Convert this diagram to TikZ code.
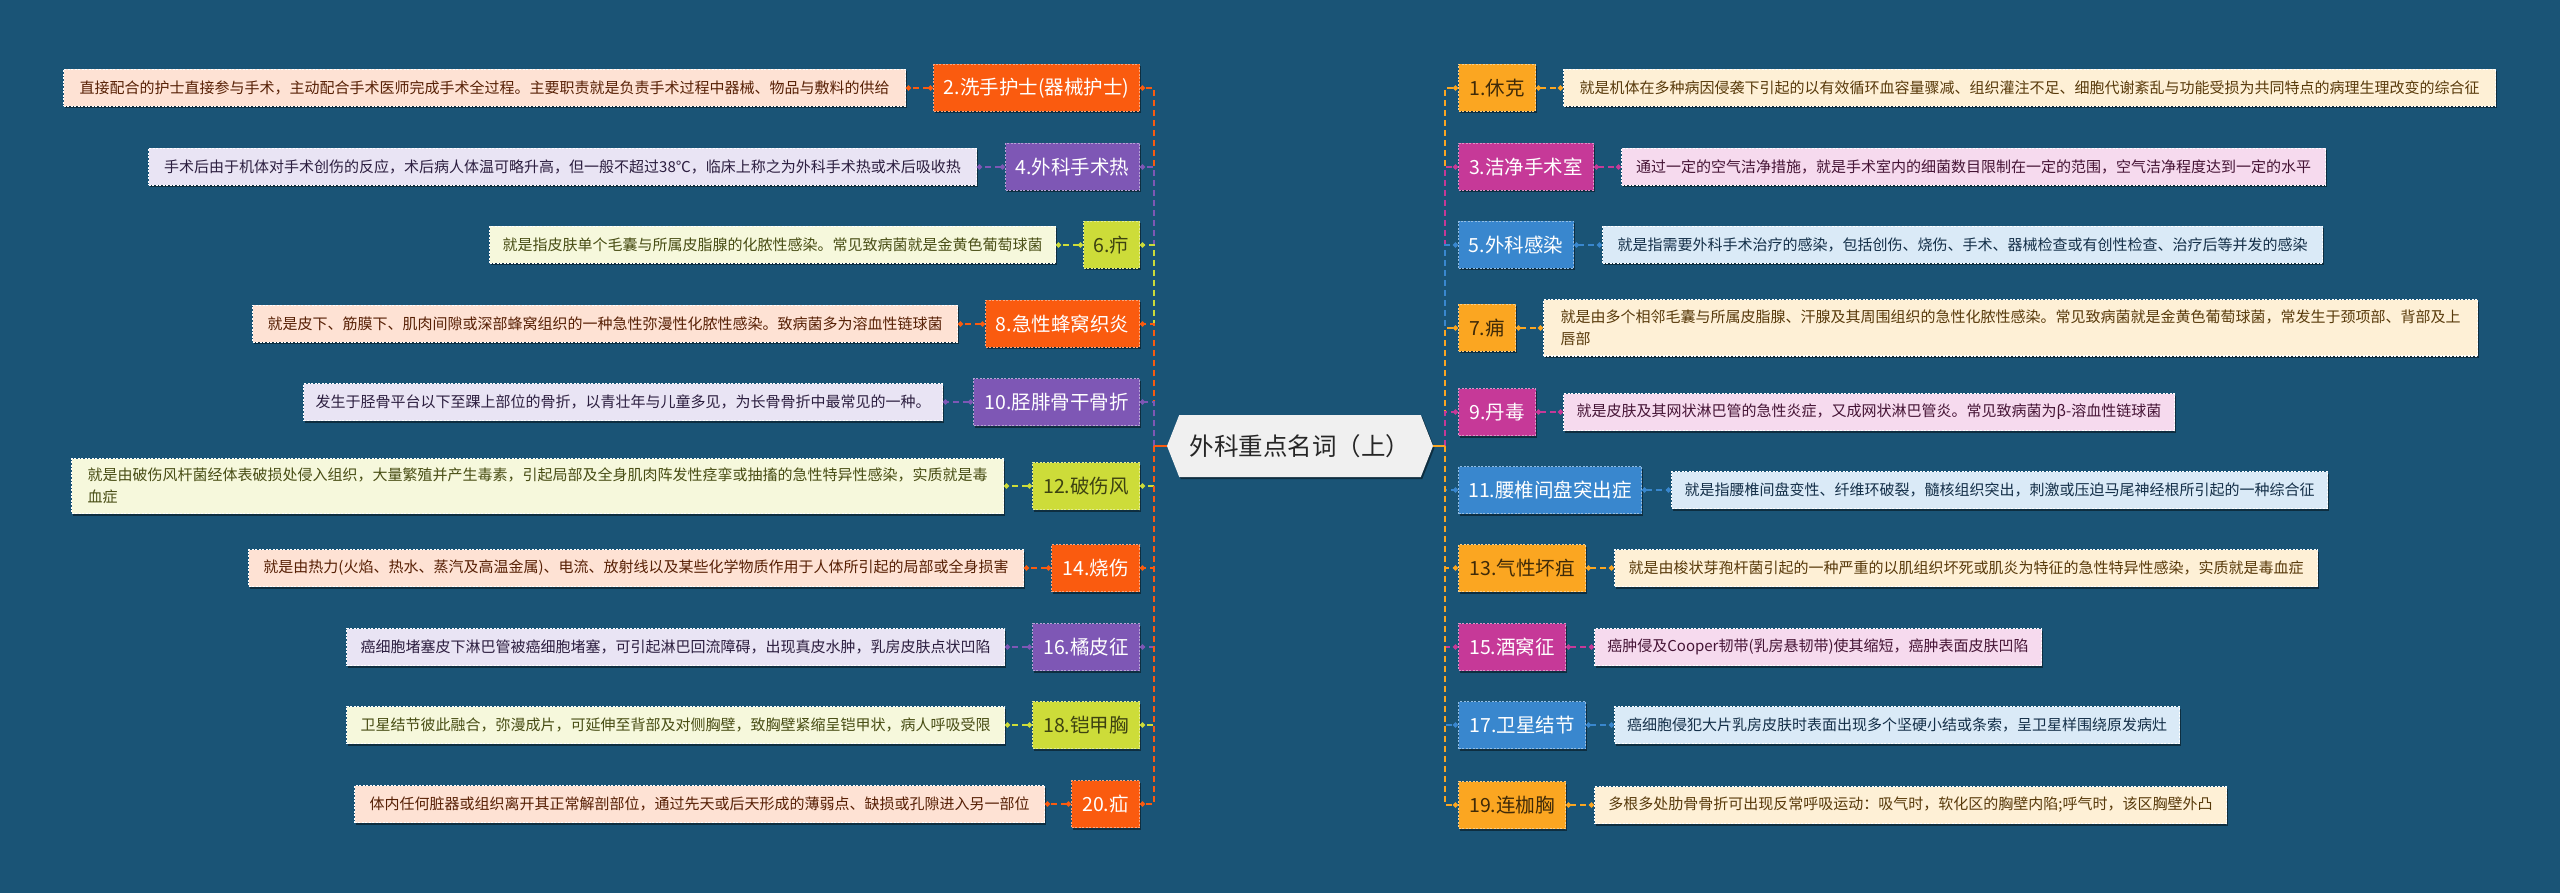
\documentclass[tikz,border=0pt]{standalone}
\usepackage{fontspec}
\newfontfamily\cjk{Noto Sans CJK SC}
\usetikzlibrary{positioning,shadows,shapes.symbols,arrows.meta}
\definecolor{bg}{RGB}{26,84,118}
\definecolor{cOrange}{RGB}{250,91,15}
\definecolor{cPurple}{RGB}{126,87,181}
\definecolor{cLime}{RGB}{205,220,57}
\definecolor{cAmber}{RGB}{251,166,33}
\definecolor{cMagenta}{RGB}{198,57,152}
\definecolor{cBlue}{RGB}{57,135,206}
\definecolor{fOrange}{RGB}{254,226,212}
\definecolor{fPurple}{RGB}{233,228,244}
\definecolor{fLime}{RGB}{246,248,220}
\definecolor{fAmber}{RGB}{254,240,214}
\definecolor{fMagenta}{RGB}{246,218,238}
\definecolor{fBlue}{RGB}{218,234,247}
\definecolor{cCenter}{RGB}{240,240,240}
\tikzset{
  boxshadow/.style={drop shadow={shadow xshift=1.5pt, shadow yshift=-2pt, opacity=0.45, fill=black}},
  tbox/.style={font=\cjk\fontsize{19.5}{23}\selectfont, minimum height=47pt, inner sep=0pt, line width=1pt, dash pattern=on 2pt off 1.5pt, boxshadow},
  dbox/.style={font=\cjk\fontsize{15}{22}\selectfont, minimum height=37pt, inner xsep=8pt, inner ysep=4pt, line width=1pt, draw=white, dash pattern=on 2pt off 1.5pt, align=left, boxshadow},
  tO/.style={tbox, fill=cOrange, draw=cOrange!55!white, text=white},
  tP/.style={tbox, fill=cPurple, draw=cPurple!55!white, text=white},
  tL/.style={tbox, fill=cLime, draw=cLime!55!white, text=cLime!30!black},
  tA/.style={tbox, fill=cAmber, draw=cAmber!55!white, text=cAmber!25!black},
  tM/.style={tbox, fill=cMagenta, draw=cMagenta!55!white, text=white},
  tB/.style={tbox, fill=cBlue, draw=cBlue!55!white, text=white},
  dO/.style={dbox, fill=fOrange, text=cOrange!35!black},
  dP/.style={dbox, fill=fPurple, text=cPurple!35!black},
  dL/.style={dbox, fill=fLime, text=cLime!35!black},
  dA/.style={dbox, fill=fAmber, text=cAmber!35!black},
  dM/.style={dbox, fill=fMagenta, text=cMagenta!35!black},
  dB/.style={dbox, fill=fBlue, text=cBlue!35!black},
  link/.style={line width=1.8pt, dash pattern=on 6pt off 4pt},
  stub/.style={line width=2pt},
  tolink/.style={link, -{Circle[length=5pt]}},
  dlink/.style={link, {Circle[length=5pt]}-{Circle[length=5pt]}},
  centerbox/.style={shape=signal, signal to=west and east, signal pointer angle=137, fill=cCenter, minimum width=266pt, minimum height=62pt, inner sep=0pt, font=\cjk\fontsize{24.5}{28}\selectfont, text=black!85, boxshadow},
}
\begin{document}
\begin{tikzpicture}[x=1pt,y=-1pt]
\fill[bg] (0,0) rectangle (2560,893);
\useasboundingbox (0,0) rectangle (2560,893);

\node[centerbox] (c) at (1300,446) {外科重点名词（上）};
\coordinate (lj) at (1154,446);
\coordinate (rj) at (1445,446);

% left titles
\node[tO, anchor=east, minimum width=206pt] (t2) at (1140,88) {2.洗手护士(器械护士)};
\node[tP, anchor=east, minimum width=134pt] (t4) at (1140,167) {4.外科手术热};
\node[tL, anchor=east, minimum width=56pt] (t6) at (1140,245) {6.疖};
\node[tO, anchor=east, minimum width=154pt] (t8) at (1140,324) {8.急性蜂窝织炎};
\node[tP, anchor=east, minimum width=166pt] (t10) at (1140,402) {10.胫腓骨干骨折};
\node[tL, anchor=east, minimum width=107pt] (t12) at (1140,486) {12.破伤风};
\node[tO, anchor=east, minimum width=88pt] (t14) at (1140,568) {14.烧伤};
\node[tP, anchor=east, minimum width=107pt] (t16) at (1140,647) {16.橘皮征};
\node[tL, anchor=east, minimum width=107pt] (t18) at (1140,725) {18.铠甲胸};
\node[tO, anchor=east, minimum width=68pt] (t20) at (1140,804) {20.疝};

% left descriptions
\node[dO, left=27pt of t2, minimum width=842pt] (d2) {直接配合的护士直接参与手术，主动配合手术医师完成手术全过程。主要职责就是负责手术过程中器械、物品与敷料的供给};
\node[dP, left=28pt of t4, minimum width=828pt] (d4) {手术后由于机体对手术创伤的反应，术后病人体温可略升高，但一般不超过38℃，临床上称之为外科手术热或术后吸收热};
\node[dL, left=27pt of t6, minimum width=566pt] (d6) {就是指皮肤单个毛囊与所属皮脂腺的化脓性感染。常见致病菌就是金黄色葡萄球菌};
\node[dO, left=27pt of t8, minimum width=705pt] (d8) {就是皮下、筋膜下、肌肉间隙或深部蜂窝组织的一种急性弥漫性化脓性感染。致病菌多为溶血性链球菌};
\node[dP, left=30pt of t10, minimum width=639pt] (d10) {发生于胫骨平台以下至踝上部位的骨折，以青壮年与儿童多见，为长骨骨折中最常见的一种。};
\node[dL, left=28pt of t12, minimum width=932pt, minimum height=55pt] (d12) {就是由破伤风杆菌经体表破损处侵入组织，大量繁殖并产生毒素，引起局部及全身肌肉阵发性痉挛或抽搐的急性特异性感染，实质就是毒\\血症};
\node[dO, left=27pt of t14, minimum width=775pt] (d14) {就是由热力(火焰、热水、蒸汽及高温金属)、电流、放射线以及某些化学物质作用于人体所引起的局部或全身损害};
\node[dP, left=27pt of t16, minimum width=658pt] (d16) {癌细胞堵塞皮下淋巴管被癌细胞堵塞，可引起淋巴回流障碍，出现真皮水肿，乳房皮肤点状凹陷};
\node[dL, left=27pt of t18, minimum width=658pt] (d18) {卫星结节彼此融合，弥漫成片，可延伸至背部及对侧胸壁，致胸壁紧缩呈铠甲状，病人呼吸受限};
\node[dO, left=26pt of t20, minimum width=690pt] (d20) {体内任何脏器或组织离开其正常解剖部位，通过先天或后天形成的薄弱点、缺损或孔隙进入另一部位};

% right titles
\node[tA, anchor=west, minimum width=77pt] (t1) at (1458,88) {1.休克};
\node[tM, anchor=west, minimum width=135pt] (t3) at (1458,167) {3.洁净手术室};
\node[tB, anchor=west, minimum width=115pt] (t5) at (1458,245) {5.外科感染};
\node[tA, anchor=west, minimum width=57pt] (t7) at (1458,328) {7.痈};
\node[tM, anchor=west, minimum width=77pt] (t9) at (1458,412) {9.丹毒};
\node[tB, anchor=west, minimum width=183pt] (t11) at (1458,490) {11.腰椎间盘突出症};
\node[tA, anchor=west, minimum width=127pt] (t13) at (1458,568) {13.气性坏疽};
\node[tM, anchor=west, minimum width=107pt] (t15) at (1458,647) {15.酒窝征};
\node[tB, anchor=west, minimum width=127pt] (t17) at (1458,725) {17.卫星结节};
\node[tA, anchor=west, minimum width=107pt] (t19) at (1458,805) {19.连枷胸};

% right descriptions
\node[dA, right=27pt of t1, minimum width=932pt] (d1) {就是机体在多种病因侵袭下引起的以有效循环血容量骤减、组织灌注不足、细胞代谢紊乱与功能受损为共同特点的病理生理改变的综合征};
\node[dM, right=27pt of t3, minimum width=704pt] (d3) {通过一定的空气洁净措施，就是手术室内的细菌数目限制在一定的范围，空气洁净程度达到一定的水平};
\node[dB, right=28pt of t5, minimum width=720pt] (d5) {就是指需要外科手术治疗的感染，包括创伤、烧伤、手术、器械检查或有创性检查、治疗后等并发的感染};
\node[dA, right=27pt of t7, minimum width=934pt, minimum height=56pt] (d7) {就是由多个相邻毛囊与所属皮脂腺、汗腺及其周围组织的急性化脓性感染。常见致病菌就是金黄色葡萄球菌，常发生于颈项部、背部及上\\唇部};
\node[dM, right=27pt of t9, minimum width=611pt] (d9) {就是皮肤及其网状淋巴管的急性炎症，又成网状淋巴管炎。常见致病菌为β-溶血性链球菌};
\node[dB, right=29pt of t11, minimum width=656pt] (d11) {就是指腰椎间盘变性、纤维环破裂，髓核组织突出，刺激或压迫马尾神经根所引起的一种综合征};
\node[dA, right=28pt of t13, minimum width=703pt] (d13) {就是由梭状芽孢杆菌引起的一种严重的以肌组织坏死或肌炎为特征的急性特异性感染，实质就是毒血症};
\node[dM, right=28pt of t15, minimum width=447pt] (d15) {癌肿侵及Cooper韧带(乳房悬韧带)使其缩短，癌肿表面皮肤凹陷};
\node[dB, right=28pt of t17, minimum width=565pt] (d17) {癌细胞侵犯大片乳房皮肤时表面出现多个坚硬小结或条索，呈卫星样围绕原发病灶};
\node[dA, right=28pt of t19, minimum width=632pt] (d19) {多根多处肋骨骨折可出现反常呼吸运动：吸气时，软化区的胸壁内陷;呼气时，该区胸壁外凸};

% trunk connectors left
\draw[tolink, cOrange] (lj) |- (t2.east);
\draw[tolink, cPurple] (lj) |- (t4.east);
\draw[tolink, cLime] (lj) |- (t6.east);
\draw[tolink, cOrange] (lj) |- (t8.east);
\draw[tolink, cPurple] (lj) |- (t10.east);
\draw[tolink, cLime] (lj) |- (t12.east);
\draw[tolink, cOrange] (lj) |- (t14.east);
\draw[tolink, cPurple] (lj) |- (t16.east);
\draw[tolink, cLime] (lj) |- (t18.east);
\draw[tolink, cOrange] (lj) |- (t20.east);
\draw[stub, cOrange] (c.west) -- (lj);
% trunk connectors right
\draw[tolink, cAmber] (rj) |- (t1.west);
\draw[tolink, cMagenta] (rj) |- (t3.west);
\draw[tolink, cBlue] (rj) |- (t5.west);
\draw[tolink, cAmber] (rj) |- (t7.west);
\draw[tolink, cMagenta] (rj) |- (t9.west);
\draw[tolink, cBlue] (rj) |- (t11.west);
\draw[tolink, cAmber] (rj) |- (t13.west);
\draw[tolink, cMagenta] (rj) |- (t15.west);
\draw[tolink, cBlue] (rj) |- (t17.west);
\draw[tolink, cAmber] (rj) |- (t19.west);
\draw[stub, cAmber] (c.east) -- (rj);

% title to description
\draw[dlink, cOrange] (t2) -- (d2);
\draw[dlink, cPurple] (t4) -- (d4);
\draw[dlink, cLime] (t6) -- (d6);
\draw[dlink, cOrange] (t8) -- (d8);
\draw[dlink, cPurple] (t10) -- (d10);
\draw[dlink, cLime] (t12) -- (d12);
\draw[dlink, cOrange] (t14) -- (d14);
\draw[dlink, cPurple] (t16) -- (d16);
\draw[dlink, cLime] (t18) -- (d18);
\draw[dlink, cOrange] (t20) -- (d20);
\draw[dlink, cAmber] (t1) -- (d1);
\draw[dlink, cMagenta] (t3) -- (d3);
\draw[dlink, cBlue] (t5) -- (d5);
\draw[dlink, cAmber] (t7) -- (d7);
\draw[dlink, cMagenta] (t9) -- (d9);
\draw[dlink, cBlue] (t11) -- (d11);
\draw[dlink, cAmber] (t13) -- (d13);
\draw[dlink, cMagenta] (t15) -- (d15);
\draw[dlink, cBlue] (t17) -- (d17);
\draw[dlink, cAmber] (t19) -- (d19);
\end{tikzpicture}
\end{document}
